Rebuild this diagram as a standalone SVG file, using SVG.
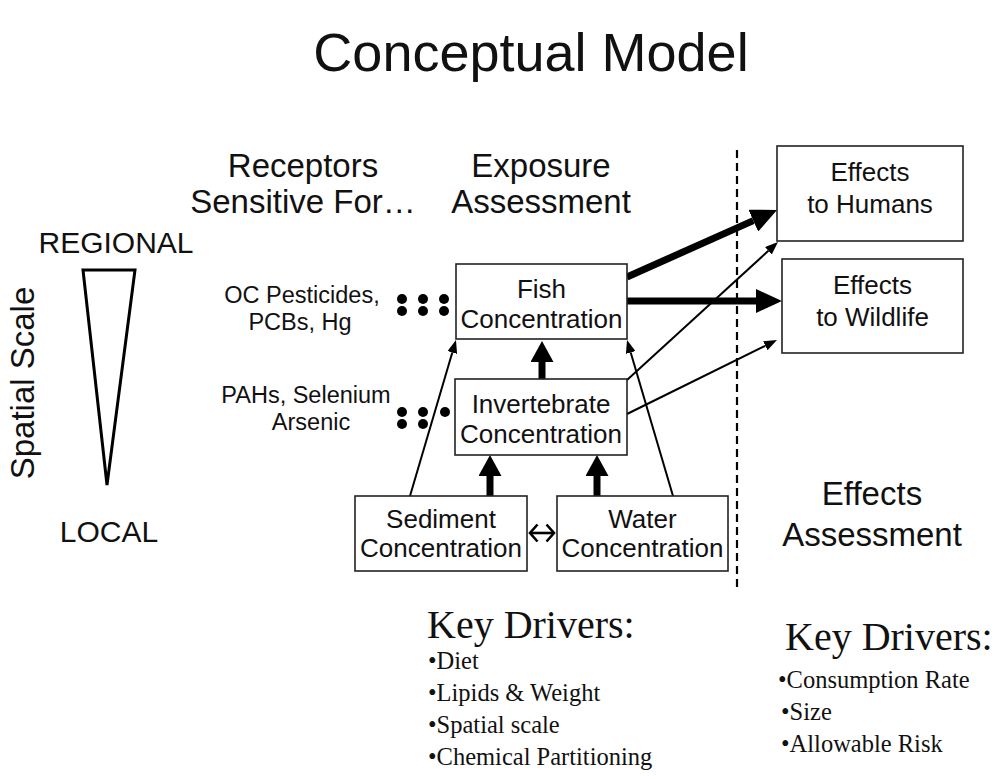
<svg xmlns="http://www.w3.org/2000/svg" width="1002" height="779" viewBox="0 0 1002 779">
<style>
.s{font-family:"Liberation Sans",Arial,sans-serif;fill:#111;text-anchor:middle}
.r{font-family:"Liberation Serif","Times New Roman",serif;fill:#111}
.box{fill:#fff;stroke:#222;stroke-width:1.6}
.bt{font-size:26px}
.thick{stroke:#000;stroke-width:7;fill:none}
.vthick{stroke:#000;stroke-width:7;fill:none}
.thin{stroke:#000;stroke-width:2;fill:none}
.dot{fill:#000}
</style>
<defs>
<marker id="big" viewBox="0 0 26 24" refX="0" refY="12" markerWidth="26" markerHeight="24" orient="auto" markerUnits="userSpaceOnUse"><path d="M0,0 L26,12 L0,24 z" fill="#000"/></marker>
<marker id="mid" viewBox="0 0 21 23" refX="0" refY="11.5" markerWidth="21" markerHeight="23" orient="auto" markerUnits="userSpaceOnUse"><path d="M0,0 L21,11.5 L0,23 z" fill="#000"/></marker>
<marker id="small" viewBox="0 0 13 10" refX="0" refY="5" markerWidth="13" markerHeight="10" orient="auto" markerUnits="userSpaceOnUse"><path d="M0,0 L13,5 L0,10 z" fill="#000"/></marker>
<marker id="chev" viewBox="0 0 11 20" refX="9" refY="10" markerWidth="11" markerHeight="20" orient="auto-start-reverse" markerUnits="userSpaceOnUse"><path d="M1.5,1.5 L9,10 L1.5,18.5" fill="none" stroke="#000" stroke-width="2.6"/></marker>
</defs>

<g id="title"><text class="s" x="531" y="71" font-size="54">Conceptual Model</text></g>

<g id="headers">
<text class="s" x="303" y="177" font-size="33">Receptors</text>
<text class="s" x="303" y="213" font-size="33">Sensitive For…</text>
<text class="s" x="541" y="177" font-size="33">Exposure</text>
<text class="s" x="541" y="213" font-size="33">Assessment</text>
<text class="s" x="872" y="505" font-size="33">Effects</text>
<text class="s" x="872" y="546" font-size="33">Assessment</text>
</g>

<g id="spatial-scale">
<text class="s" x="116" y="253" font-size="30">REGIONAL</text>
<text class="s" x="109" y="542" font-size="30">LOCAL</text>
<text class="s" x="0" y="0" font-size="33" transform="translate(34,383) rotate(-90)">Spatial Scale</text>
<polygon points="83,270 135,270 107,485" fill="none" stroke="#000" stroke-width="3" stroke-linejoin="miter"/>
</g>

<g id="receptors">
<text class="s" x="302" y="303" font-size="23.5">OC Pesticides,</text>
<text class="s" x="300" y="330" font-size="23.5">PCBs, Hg</text>
<text class="s" x="306" y="403" font-size="23.5">PAHs, Selenium</text>
<text class="s" x="311" y="430" font-size="23.5">Arsenic</text>
<circle class="dot" cx="402" cy="299" r="5"/><circle class="dot" cx="402" cy="311" r="5"/>
<circle class="dot" cx="423" cy="299" r="5"/><circle class="dot" cx="423" cy="311" r="5"/>
<circle class="dot" cx="444" cy="299" r="5"/><circle class="dot" cx="444" cy="311" r="5"/>
<circle class="dot" cx="402" cy="412" r="5"/><circle class="dot" cx="402" cy="424" r="5"/>
<circle class="dot" cx="423" cy="412" r="5"/><circle class="dot" cx="423" cy="424" r="5"/>
<circle class="dot" cx="445" cy="412" r="5"/>
</g>

<g id="divider"><line x1="737" y1="150" x2="737" y2="590" stroke="#000" stroke-width="2.2" stroke-dasharray="8,5"/></g>

<g id="connectors">
<line class="vthick" x1="542" y1="379" x2="542" y2="362" marker-end="url(#mid)"/>
<line class="vthick" x1="490" y1="496" x2="490" y2="476" marker-end="url(#mid)"/>
<line class="vthick" x1="597" y1="496" x2="597" y2="476" marker-end="url(#mid)"/>
<line class="thick" x1="627" y1="277" x2="753.3" y2="220.6" marker-end="url(#big)"/>
<line class="thick" x1="627" y1="301" x2="756" y2="301" marker-end="url(#big)"/>
<line class="thin" x1="410" y1="496" x2="452.3" y2="352.5" marker-end="url(#small)"/>
<line class="thin" x1="673" y1="496" x2="630.7" y2="352.5" marker-end="url(#small)"/>
<line class="thin" x1="627" y1="380" x2="768.4" y2="250.8" marker-end="url(#small)"/>
<line class="thin" x1="627" y1="414" x2="765.3" y2="345.8" marker-end="url(#small)"/>
<line stroke="#000" stroke-width="2.6" x1="530" y1="533" x2="554" y2="533" marker-start="url(#chev)" marker-end="url(#chev)"/>
</g>

<g id="fish"><rect class="box" x="456" y="264" width="171" height="75"/>
<text class="s bt" x="541.5" y="298">Fish</text><text class="s bt" x="541.5" y="328">Concentration</text></g>

<g id="invertebrate"><rect class="box" x="455" y="379" width="172" height="76"/>
<text class="s bt" x="541" y="413">Invertebrate</text><text class="s bt" x="541" y="443">Concentration</text></g>

<g id="sediment"><rect class="box" x="355" y="496" width="172" height="75"/>
<text class="s bt" x="441" y="528">Sediment</text><text class="s bt" x="441" y="557">Concentration</text></g>

<g id="water"><rect class="box" x="557" y="496" width="171" height="75"/>
<text class="s bt" x="642.5" y="528">Water</text><text class="s bt" x="642.5" y="557">Concentration</text></g>

<g id="humans"><rect class="box" x="777" y="146" width="186" height="95"/>
<text class="s bt" x="870" y="181">Effects</text><text class="s bt" x="870" y="213">to Humans</text></g>

<g id="wildlife"><rect class="box" x="782" y="259" width="181" height="94"/>
<text class="s bt" x="872.5" y="294">Effects</text><text class="s bt" x="872.5" y="326">to Wildlife</text></g>

<g id="key-drivers-exposure">
<text class="r" x="427" y="638" font-size="40">Key Drivers:</text>
<text class="r" x="428" y="669" font-size="24.5">•Diet</text>
<text class="r" x="428" y="701" font-size="24.5">•Lipids &amp; Weight</text>
<text class="r" x="428" y="733" font-size="24.5">•Spatial scale</text>
<text class="r" x="428" y="765" font-size="24.5">•Chemical Partitioning</text>
</g>

<g id="key-drivers-effects">
<text class="r" x="785" y="650" font-size="40">Key Drivers:</text>
<text class="r" x="778" y="688" font-size="24.5">•Consumption Rate</text>
<text class="r" x="781" y="720" font-size="24.5">•Size</text>
<text class="r" x="781" y="752" font-size="24.5">•Allowable Risk</text>
</g>
</svg>
